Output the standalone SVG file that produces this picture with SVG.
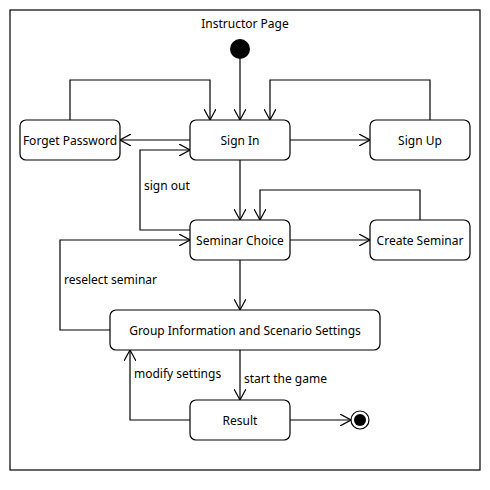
<svg xmlns="http://www.w3.org/2000/svg" width="490" height="490" viewBox="0 0 490 490">
<style>
.st{fill:#fff;stroke:#000;stroke-width:1.2}
.t{font-family:"Noto Sans","Open Sans",sans-serif;font-size:12px;fill:#000}
.c{text-anchor:middle;dominant-baseline:central}
.e{fill:none;stroke:#000;stroke-width:1.2;marker-end:url(#a)}
</style>
<defs>
<marker id="a" viewBox="0 0 12 12" refX="11" refY="6" markerWidth="12" markerHeight="12" markerUnits="userSpaceOnUse" orient="auto">
<path d="M0,0 L11,6 L0,12" fill="none" stroke="#000" stroke-width="1.2"/>
</marker>
</defs>
<rect x="10" y="10" width="470" height="460" fill="#fff" stroke="#000" stroke-width="1.2"/>
<text class="t c" x="245" y="23">Instructor Page</text>
<g id="connectors">
<path class="e" d="M240,59 V120"/>
<path class="e" d="M70,120 V80 H210 V120"/>
<path class="e" d="M430,120 V80 H270 V120"/>
<path class="e" d="M190,140 H120"/>
<path class="e" d="M290,140 H370"/>
<path class="e" d="M190,230 H140 V150 H190"/>
<text class="t" x="144" y="190">sign out</text>
<path class="e" d="M240,160 V220"/>
<path class="e" d="M420,220 V190 H260 V220"/>
<path class="e" d="M290,240 H370"/>
<path class="e" d="M240,260 V310"/>
<path class="e" d="M110,330 H60 V240 H190"/>
<text class="t" x="64" y="284">reselect seminar</text>
<path class="e" d="M240,350 V400"/>
<text class="t" x="244" y="383">start the game</text>
<path class="e" d="M190,420 H130 V350"/>
<text class="t" x="134" y="378">modify settings</text>
<path class="e" d="M290,420 H351"/>
</g>
<g id="initial"><circle cx="240" cy="49" r="10" fill="#000"/></g>
<g id="forget"><rect class="st" x="20" y="120" width="100" height="40" rx="6"/><text class="t c" x="70" y="140">Forget Password</text></g>
<g id="signin"><rect class="st" x="190" y="120" width="100" height="40" rx="6"/><text class="t c" x="240" y="140">Sign In</text></g>
<g id="signup"><rect class="st" x="370" y="120" width="100" height="40" rx="6"/><text class="t c" x="420" y="140">Sign Up</text></g>
<g id="seminar"><rect class="st" x="190" y="220" width="100" height="40" rx="6"/><text class="t c" x="240" y="240">Seminar Choice</text></g>
<g id="create"><rect class="st" x="370" y="220" width="100" height="40" rx="6"/><text class="t c" x="420" y="240">Create Seminar</text></g>
<g id="group"><rect class="st" x="110" y="310" width="270" height="40" rx="6"/><text class="t c" x="245" y="330">Group Information and Scenario Settings</text></g>
<g id="result"><rect class="st" x="190" y="400" width="100" height="40" rx="6"/><text class="t c" x="240" y="420">Result</text></g>
<g id="final"><circle cx="360" cy="420" r="9" fill="#fff" stroke="#000" stroke-width="1.2"/><circle cx="360" cy="420" r="6" fill="#000"/></g>
</svg>
